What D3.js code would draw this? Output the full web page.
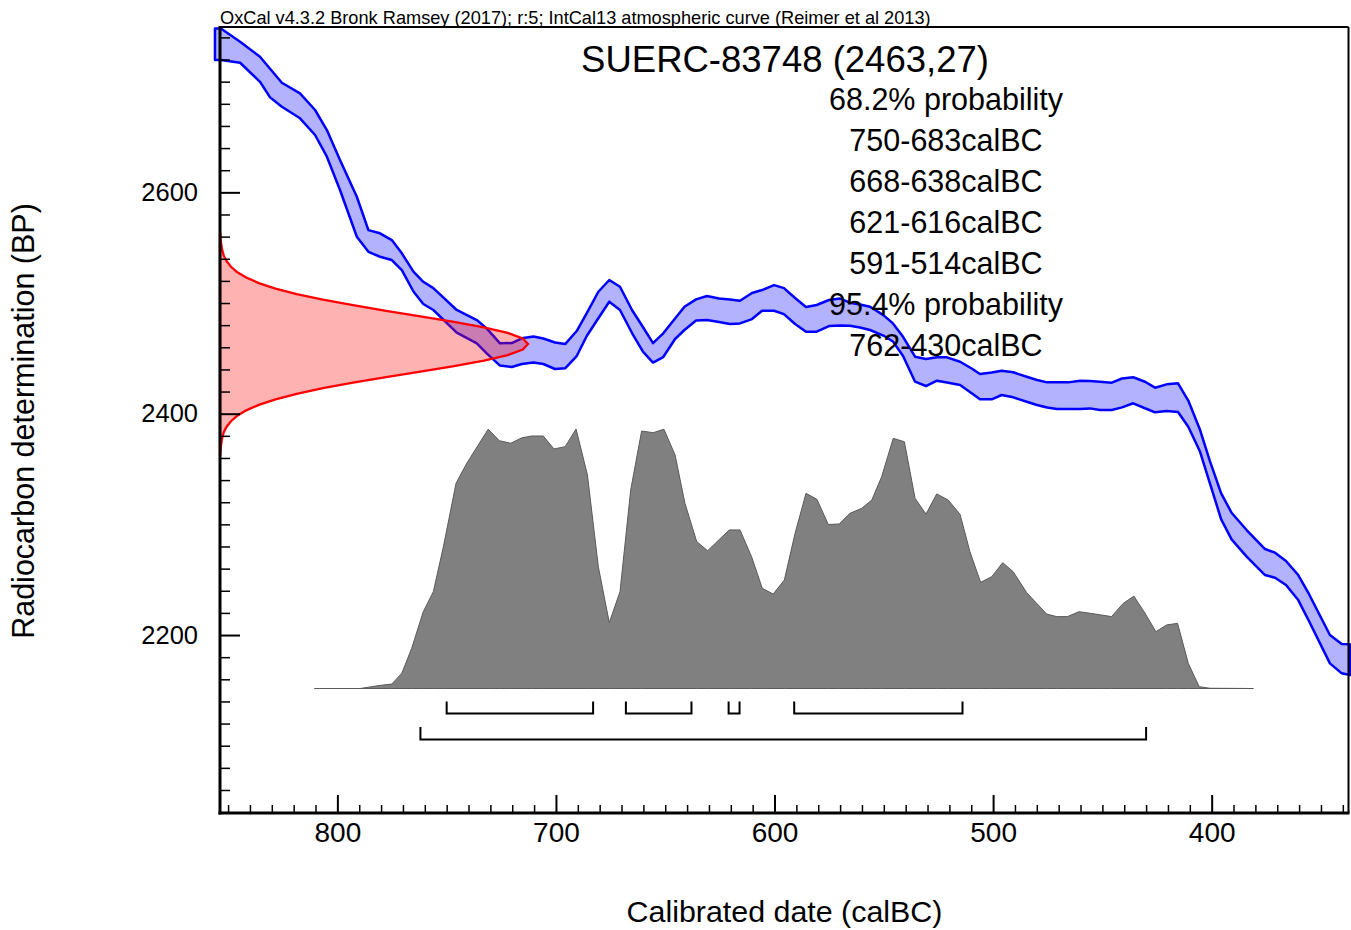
<!DOCTYPE html>
<html><head><meta charset="utf-8">
<script src="https://cdn.jsdelivr.net/npm/d3@7"></script>
<style>
body{margin:0;background:#fff}
svg{display:block}
text{font-family:"Liberation Sans",Arial,Helvetica,sans-serif;fill:#000}
</style>
</head><body>
<svg id="chart" width="1351" height="930"></svg>
<script>
// ---------- DATA ----------
const curveYears = [856,853.3,844.5,835.4,830.8,825.4,817.1,810.2,804.8,798.8,791.1,785.8,780.5,775.1,770.5,765.2,760.7,756.1,745.4,736.2,731.7,725.6,720.2,715.6,710.3,705.8,700.4,695.8,690.5,685.9,680.6,675.6,670.7,665.2,660.2,655.6,650.9,645.5,641.2,635.9,630.9,625.4,620.4,615.8,610.3,605.7,600.2,595.7,590.6,585.6,580.7,575.1,570.0,565.5,560.9,556.3,550.2,545.8,541.2,535.7,530.7,525.7,521.1,515.1,509.8,506.0,500.6,496.1,490.8,483.9,479.9,475.3,470.8,465.6,460.2,455.7,451.1,445.7,441.0,435.9,430.5,425.9,420.6,415.4,410.7,405.3,400.8,395.7,390.9,384.0,375.6,371.0,366.0,360.4,355.5,345.9,340.5,336.7];
const curveUpper = [2748,2748,2736.1,2722.5,2711.7,2699.0,2689.4,2674.4,2656.3,2629.2,2596.0,2565.9,2563.0,2556.9,2544.9,2528.3,2519.2,2513.5,2493.7,2484.6,2477.1,2463.6,2463.8,2468.1,2469.7,2467.9,2464.3,2462.9,2474.7,2490.9,2510.2,2520.8,2514.7,2493.7,2478.3,2463.8,2472.6,2486.0,2496.6,2503.3,2506.3,2504.0,2503.1,2502.0,2509.0,2511.7,2516.2,2513.5,2504.5,2496.4,2498.2,2502.7,2504.0,2500.3,2498.6,2496.6,2489.1,2481.6,2469.5,2451.5,2449.4,2450.9,2450.9,2446.9,2440.8,2435.8,2437.2,2438.8,2437.4,2432.9,2430.4,2428.3,2428.3,2428.3,2429.8,2429.5,2428.9,2428.0,2431.8,2432.9,2428.9,2423.5,2426.5,2427.4,2411.9,2385.2,2357.2,2328.3,2310.5,2294.9,2277.7,2274.4,2266.9,2254.2,2237.1,2200.0,2191.9,2191.6];
const curveLower = [2719.5,2719.5,2717.1,2699.9,2685.8,2677.3,2666.9,2651.8,2632.2,2602.1,2559.9,2546.3,2541.8,2538.8,2529.8,2510.4,2499.1,2493.7,2473.3,2463.6,2454.5,2443.5,2442.2,2444.9,2446.2,2444.9,2440.4,2441.0,2452.1,2470.2,2486.2,2501.2,2493.7,2472.9,2456.0,2446.2,2451.2,2467.5,2475.6,2484.2,2484.6,2482.8,2481.0,2481.6,2485.5,2493.0,2493.0,2490.0,2481.0,2474.1,2474.1,2479.2,2479.7,2479.5,2477.8,2475.6,2470.6,2465.2,2452.1,2428.9,2425.0,2429.8,2428.2,2425.9,2418.4,2413.0,2413.0,2416.9,2414.8,2410.3,2407.8,2405.6,2404.2,2404.2,2404.2,2404.8,2403.3,2403.3,2405.7,2409.4,2404.9,2401.2,2402.4,2401.5,2388.2,2365.6,2337.1,2304.8,2286.5,2270.8,2254.2,2251.8,2245.2,2231.6,2212.7,2174.4,2165.4,2163.9];

const distYears = [810.5,789.6,780.5,775.1,770.5,766.0,760.7,756.1,751.5,745.7,740.8,731.0,725.9,720.7,715.6,711.1,705.8,700.9,695.8,690.8,685.6,680.6,675.6,670.7,665.8,660.8,655.5,650.6,645.5,641.0,635.6,630.6,620.7,615.8,610.5,605.6,600.6,595.5,590.6,585.6,580.6,575.4,570.4,565.5,560.2,555.5,551.0,545.7,540.6,535.7,530.7,525.8,520.5,515.1,510.6,505.7,500.6,495.6,490.8,484.6,475.5,470.9,466.0,460.7,455.7,450.3,445.8,440.5,435.6,430.5,425.5,420.6,415.6,410.7,405.7,400.8,380.9];
const distProb = [0,0,0.012,0.017,0.059,0.155,0.296,0.373,0.546,0.791,0.868,0.999,0.955,0.945,0.966,0.973,0.973,0.923,0.932,1.0,0.823,0.469,0.254,0.373,0.765,0.992,0.986,0.999,0.900,0.714,0.566,0.531,0.611,0.611,0.508,0.386,0.364,0.418,0.598,0.752,0.729,0.632,0.634,0.675,0.694,0.726,0.816,0.964,0.951,0.733,0.672,0.750,0.726,0.671,0.527,0.409,0.431,0.485,0.450,0.369,0.287,0.277,0.277,0.296,0.290,0.283,0.277,0.328,0.356,0.290,0.219,0.245,0.251,0.097,0.007,0.001,0];

const measBP = [2363,2368,2373,2378,2383,2388,2393,2398,2403,2408,2413,2418,2423,2428,2433,2438,2443,2448,2453,2458,2463,2468,2473,2478,2483,2488,2493,2498,2503,2508,2513,2518,2523,2528,2533,2538,2543,2548,2553,2558,2563];
const measDensity = [0.001,0.002,0.004,0.007,0.012,0.021,0.035,0.055,0.085,0.126,0.180,0.249,0.334,0.432,0.539,0.651,0.760,0.857,0.934,0.983,1,0.983,0.934,0.857,0.760,0.651,0.539,0.432,0.334,0.249,0.180,0.126,0.085,0.055,0.035,0.021,0.012,0.007,0.004,0.002,0.001];

const ranges68 = [[750,683],[668,638],[621,616],[591,514]];
const ranges95 = [[762,430]];

const xMajorTicks = [800,700,600,500,400];
const yMajorTicks = [2200,2400,2600];

const headerText = "OxCal v4.3.2 Bronk Ramsey (2017); r:5; IntCal13 atmospheric curve (Reimer et al 2013)";
const titleText = "SUERC-83748 (2463,27)";
const resultLines = ["68.2% probability","750-683calBC","668-638calBC","621-616calBC","591-514calBC","95.4% probability","762-430calBC"];
const xLabel = "Calibrated date (calBC)";
const yLabel = "Radiocarbon determination (BP)";

// ---------- LAYOUT ----------
const L = 220, R = 1348.5, T = 27, B = 813;
const svg = d3.select("#chart");

const x = d3.scaleLinear().domain([853.7, 337.4]).range([L, R]);
const y = d3.scaleLinear().domain([2039.2, 2749.4]).range([B, T]);
const pY = d3.scaleLinear().domain([0, 1]).range([688.5, 429]);
const mX = d3.scaleLinear().domain([0, 1]).range([L, 528]);

// calibrated distribution (grey)
const distData = distYears.map((d, i) => ({yr: d, p: distProb[i]}));
svg.append("path")
  .datum(distData)
  .attr("d", d3.area().x(d => x(d.yr)).y0(pY(0)).y1(d => pY(d.p)))
  .attr("fill", "#808080")
  .attr("stroke", "#5a5a5a")
  .attr("stroke-width", 1);

// calibration curve band (blue)
const curveData = curveYears.map((d, i) => ({yr: d, hi: curveUpper[i], lo: curveLower[i]}));
svg.append("path")
  .datum(curveData)
  .attr("d", d3.area().x(d => x(d.yr)).y0(d => y(d.lo)).y1(d => y(d.hi)))
  .attr("fill", "rgba(0,0,255,0.3)")
  .attr("stroke", "#0000ff")
  .attr("stroke-width", 2.5)
  .attr("stroke-linejoin", "round");

// radiocarbon measurement (red)
const measData = measBP.map((d, i) => ({bp: d, v: measDensity[i]}));
svg.append("path")
  .datum(measData)
  .attr("d", d3.area().y(d => y(d.bp)).x0(mX(0)).x1(d => mX(d.v)))
  .attr("fill", "rgba(255,0,0,0.3)")
  .attr("stroke", "#ff0000")
  .attr("stroke-width", 2.3);

// range brackets
function bracket(ranges, yLine, yTop) {
  ranges.forEach(r => {
    const x1 = x(r[0]), x2 = x(r[1]);
    svg.append("path")
      .attr("d", `M${x1},${yTop}L${x1},${yLine}L${x2},${yLine}L${x2},${yTop}`)
      .attr("fill", "none").attr("stroke", "#000").attr("stroke-width", 2);
  });
}
bracket(ranges68, 713.5, 701.5);
bracket(ranges95, 739.5, 727);

// axes - minor ticks
const xMinor = d3.range(340, 854, 10).filter(v => !xMajorTicks.includes(v));
svg.append("g").attr("transform", `translate(0,${B})`)
  .call(d3.axisBottom(x).tickValues(xMinor).tickSize(-8).tickFormat(""))
  .call(g => g.select(".domain").remove())
  .call(g => g.selectAll("line").attr("stroke-width", 1.5));
svg.append("g").attr("transform", `translate(0,${B})`)
  .call(d3.axisBottom(x).tickValues(xMajorTicks).tickSize(-18).tickPadding(9).tickFormat(d3.format("d")))
  .call(g => g.select(".domain").remove())
  .call(g => g.selectAll("line").attr("stroke-width", 2))
  .call(g => g.selectAll("text").attr("font-size", 28).attr("font-family", "Liberation Sans, Arial, sans-serif"));

const yMinor = d3.range(2040, 2750, 20).filter(v => !yMajorTicks.includes(v));
svg.append("g").attr("transform", `translate(${L},0)`)
  .call(d3.axisLeft(y).tickValues(yMinor).tickSize(-10).tickFormat(""))
  .call(g => g.select(".domain").remove())
  .call(g => g.selectAll("line").attr("stroke-width", 1.5));
svg.append("g").attr("transform", `translate(${L},0)`)
  .call(d3.axisLeft(y).tickValues(yMajorTicks).tickSize(-20).tickPadding(22).tickFormat(d3.format("d")))
  .call(g => g.select(".domain").remove())
  .call(g => g.selectAll("line").attr("stroke-width", 2))
  .call(g => g.selectAll("text").attr("font-size", 25.5).attr("font-family", "Liberation Sans, Arial, sans-serif"));

// frame
svg.append("line").attr("x1", L).attr("x2", R).attr("y1", T).attr("y2", T).attr("stroke", "#000").attr("stroke-width", 2);
svg.append("line").attr("x1", R).attr("x2", R).attr("y1", T).attr("y2", B).attr("stroke", "#000").attr("stroke-width", 2);
svg.append("line").attr("x1", L).attr("x2", L).attr("y1", T - 1).attr("y2", B + 1.5).attr("stroke", "#000").attr("stroke-width", 3);
svg.append("line").attr("x1", L - 1.5).attr("x2", R + 1).attr("y1", B).attr("y2", B).attr("stroke", "#000").attr("stroke-width", 3);

// texts
svg.append("text").attr("x", L).attr("y", 24).attr("font-size", 18.2).text(headerText);
svg.append("text").attr("x", 785).attr("y", 72).attr("text-anchor", "middle").attr("font-size", 36.5).text(titleText);
resultLines.forEach((t, i) => {
  svg.append("text").attr("x", 946).attr("y", 109.5 + i * 41).attr("text-anchor", "middle").attr("font-size", 30.5).text(t);
});
svg.append("text").attr("x", 784.5).attr("y", 922).attr("text-anchor", "middle").attr("font-size", 30.4).text(xLabel);
svg.append("text").attr("transform", "translate(34,421) rotate(-90)").attr("text-anchor", "middle").attr("font-size", 30.5).text(yLabel);
</script>
</body></html>
